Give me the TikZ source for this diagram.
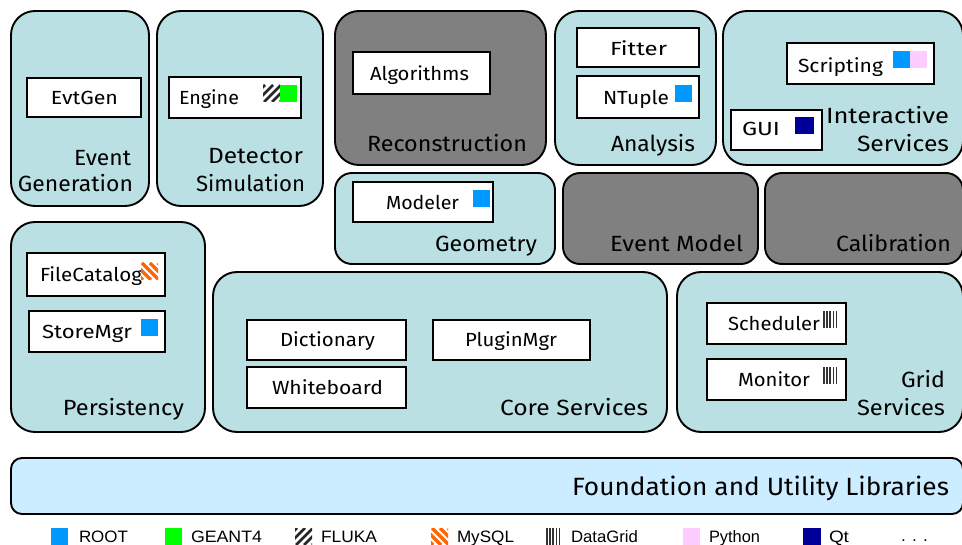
\documentclass[tikz,border=0pt]{standalone}
\usepackage{fontspec}
\usepackage{graphicx}
\setmainfont{Fira Sans}
\newfontfamily\legendfont{Liberation Sans}
\definecolor{panelc}{HTML}{BBE0E3}
\definecolor{grayc}{HTML}{808080}
\definecolor{foundc}{HTML}{CCECFF}
\definecolor{rootc}{HTML}{0099FF}
\definecolor{geantc}{HTML}{00FF00}
\definecolor{mysqlc}{HTML}{FF6600}
\definecolor{pythonc}{HTML}{FFCCFF}
\definecolor{qtc}{HTML}{000099}
\tikzset{
  panel/.style={draw=black,line width=1.9pt,fill=panelc,rounded corners=#1},
  panel/.default=24pt,
  greypanel/.style={panel=#1,fill=grayc},
  greypanel/.default=24pt,
  innerbox/.style={draw=black,line width=1.7pt,fill=white},
  labeltext/.style={anchor=base west,inner sep=0pt,outer sep=0pt,text=black}
}
% name, x-left, x-right, baseline, font size, text
\newcommand\lbl[6]{%
  \pgfmathsetmacro\lblw{#3-#2}%
  \node[labeltext] (#1) at (#2,#4) {\resizebox{\lblw pt}{\height}{\fontsize{#5}{#5}\selectfont #6}};}
\newcommand\leg[5]{%
  \pgfmathsetmacro\lblw{#3-#2}%
  \node[labeltext] (#1) at (#2,#4) {\resizebox{\lblw pt}{\height}{\legendfont\fontsize{16.5}{16.5}\selectfont #5}};}
\newcommand\solidicon[3]{\fill[#3] (#1,#2) rectangle ++(17,17);}
\newcommand\flukaicon[2]{\begin{scope}\clip (#1,#2) rectangle ++(17,17);
  \foreach \k in {-3,...,3}{\draw[black!85,line width=2.7pt] ({#1+\k*8+1},{#2+17}) -- ++(17,-17);}
  \end{scope}}
\newcommand\mysqlicon[2]{\begin{scope}\clip (#1,#2) rectangle ++(17,17);
  \foreach \k in {-3,...,3}{\draw[mysqlc,line width=3.2pt] ({#1+\k*8+1},#2) -- ++(17,17);}
  \end{scope}}
\newcommand\gridicon[2]{\foreach \k in {0,...,4}{\draw[black!80,line width=1.5pt] ({#1+1+\k*3.1},#2) -- ++(0,17);}}
\begin{document}
\begin{tikzpicture}[x=1pt,y=-1pt]
\useasboundingbox (0,0) rectangle (962,545);
\clip (0,0) rectangle (962,545);
% panels
\draw[panel] (11,11) rectangle (149,206);
\draw[panel] (157,11) rectangle (323,206);
\draw[greypanel] (335,11) rectangle (546,165);
\draw[panel] (555,11) rectangle (716,165);
\draw[panel] (723,11) rectangle (963,165);
\draw[panel=17pt] (335,173) rectangle (555,264);
\draw[greypanel=17pt] (563,173) rectangle (758,264);
\draw[greypanel=17pt] (765,173) rectangle (963,264);
\draw[panel] (11,222) rectangle (205,432);
\draw[panel] (213,272) rectangle (667,432);
\draw[panel] (677,272) rectangle (963,432);
\draw[panel=11pt,fill=foundc] (11,458) rectangle (963,514);
% inner boxes
\draw[innerbox] (27,78) rectangle (141,117);
\draw[innerbox] (169,77) rectangle (301,118);
\draw[innerbox] (353,52) rectangle (490,94);
\draw[innerbox] (577,28) rectangle (699,67);
\draw[innerbox] (577,76) rectangle (699,118);
\draw[innerbox] (787,43) rectangle (934,84);
\draw[innerbox] (731,110) rectangle (822,150);
\draw[innerbox] (353,182) rectangle (493,222);
\draw[innerbox] (27,253) rectangle (165,296);
\draw[innerbox] (29,311) rectangle (165,352);
\draw[innerbox] (247,320) rectangle (406,360);
\draw[innerbox] (247,367) rectangle (406,408);
\draw[innerbox] (433,320) rectangle (590,360);
\draw[innerbox] (707,303) rectangle (846,344);
\draw[innerbox] (707,359) rectangle (846,400);
% icons inside boxes
\flukaicon{263}{85}
\solidicon{280}{85}{geantc}
\solidicon{675}{85}{rootc}
\solidicon{893}{51}{rootc}
\solidicon{910}{51}{pythonc}
\fill[qtc] (795,117) rectangle (814,134);
\solidicon{473}{190}{rootc}
\solidicon{141}{319}{rootc}
\gridicon{823}{311}
\gridicon{823}{367}
% inner labels
\lbl{evtgen}{51}{118}{105}{19}{EvtGen}
\lbl{engine}{179}{239}{105}{19}{Engine}
\lbl{algorithms}{370}{469}{81}{19}{Algorithms}
\lbl{fitter}{610}{667}{56}{19}{Fitter}
\lbl{ntuple}{603}{669}{105}{19}{NTuple}
\lbl{scripting}{798}{883}{73}{19}{Scripting}
\lbl{gui}{742}{780}{136}{19}{GUI}
\lbl{modeler}{386}{459}{210}{19}{Modeler}
\lbl{filecatalog}{40}{142}{282}{19}{FileCatalog}
\mysqlicon{141}{263}
\lbl{storemgr}{42}{132}{339}{19}{StoreMgr}
\lbl{dictionary}{280}{375}{347}{19}{Dictionary}
\lbl{whiteboard}{272}{383}{395}{19}{Whiteboard}
\lbl{pluginmgr}{465}{557}{347}{19}{PluginMgr}
\lbl{scheduler}{728}{820}{331}{19}{Scheduler}
\lbl{monitor}{738}{810}{387}{19}{Monitor}
% panel titles
\lbl{t1a}{74}{131}{166}{22}{Event}
\lbl{t1b}{18}{133}{192}{22}{Generation}
\lbl{t2a}{208}{303}{164}{22}{Detector}
\lbl{t2b}{196}{305}{192}{22}{Simulation}
\lbl{t3}{367}{527}{152}{22}{Reconstruction}
\lbl{t4}{611}{695}{152}{22}{Analysis}
\lbl{t5a}{826}{949}{124}{22}{Interactive}
\lbl{t5b}{857}{949}{152}{22}{Services}
\lbl{t6}{435}{537}{252}{22}{Geometry}
\lbl{t7}{610}{743}{252}{22}{Event Model}
\lbl{t8}{836}{951}{252}{22}{Calibration}
\lbl{t9}{63}{184}{416}{22}{Persistency}
\lbl{t10}{500}{648}{416}{22}{Core Services}
\lbl{t11a}{901}{945}{388}{22}{Grid}
\lbl{t11b}{857}{945}{416}{22}{Services}
\lbl{t12}{572}{949}{496}{25}{Foundation and Utility Libraries}
% legend
\solidicon{51}{528}{rootc}
\leg{l1}{79}{128}{542}{ROOT}
\solidicon{165}{528}{geantc}
\leg{l2}{191}{262}{542}{GEANT4}
\flukaicon{295}{528}
\leg{l3}{321}{377}{542}{FLUKA}
\mysqlicon{431}{528}
\leg{l4}{457}{514}{542}{MySQL}
\gridicon{546}{528}
\leg{l5}{571}{638}{542}{DataGrid}
\solidicon{683}{528}{pythonc}
\leg{l6}{709}{760}{542}{Python}
\fill[qtc] (803,528) rectangle (821,545);
\leg{l7}{829}{849}{542}{Qt}
\leg{l8}{901}{928}{541}{. . .}
\end{tikzpicture}
\end{document}
